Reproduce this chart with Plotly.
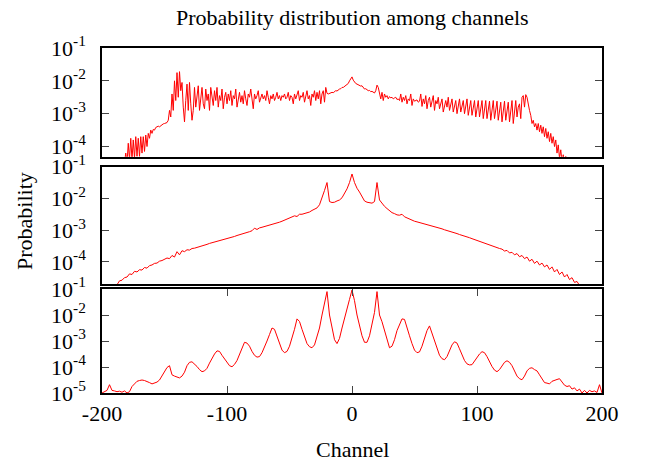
import plotly.graph_objects as go
from plotly.subplots import make_subplots

# ---- data (log10 of probability) ----
p1_start = -182  # channel of first value, step 1
p1_log10 = [
    -4.5,-4.2,-4.5,-3.9,-4.4,-3.75,-4.4,-3.8,-4.35,-3.7,-4.3,-3.75,-4.3,-3.7,-4.2,-3.7,-4.15,-3.65,-4.0,-3.6,
    -3.75,-3.5,-3.6,-3.48,-3.5,-3.42,-3.4,-3.38,-3.4,-3.36,-3.33,-3.31,-3.3,-3.28,-3.27,-3.2,
    -2.9,-3.1,-2.4,-2.9,-2.0,-2.6,-1.75,-2.5,-1.72,-2.3,-2.05,-2.8,-3.25,-2.6,-2.1,-2.9,-2.05,-2.7,-3.2,-2.9,
    -2.2,-2.8,-2.4,-2.15,-2.9,-2.5,-2.2,-2.7,-2.85,-2.25,
    -2.6,-2.4,-2.9,-2.2,-2.55,-2.75,-2.3,-2.6,-2.2,-2.8,
    -2.45,-2.6,-2.25,-2.85,-2.5,-2.35,-2.7,-2.4,-2.6,-2.3,
    -2.75,-2.45,-2.55,-2.25,-2.8,-2.5,-2.35,-2.65,-2.45,-2.7,
    -2.3,-2.55,-2.75,-2.4,-2.5,-2.25,-2.6,-2.85,-2.4,-2.55,
    -2.45,-2.3,-2.65,-2.5,-2.4,-2.55,-2.45,-2.6,-2.3,-2.5,
    -2.7,-2.45,-2.55,-2.4,-2.6,-2.5,-2.35,-2.55,-2.45,-2.6,
    -2.45,-2.5,-2.4,-2.55,-2.5,-2.35,-2.6,-2.45,-2.5,-2.7,
    -2.4,-2.55,-2.45,-2.3,-2.6,-2.45,-2.5,
    -2.35,-2.65,-2.45,-2.3,-2.55,-2.45,-2.75,-2.4,-2.5,-2.3,-2.6,-2.35,-2.55,-2.3,-2.7,-2.4,-2.3,-2.65,-2.2,
    -2.38,-2.4,-2.38,-2.36,-2.35,-2.36,-2.33,-2.3,-2.31,-2.27,-2.25,-2.24,-2.2,-2.2,-2.17,-2.15,-2.1,-2.08,-2.0,-1.95,-1.88,
    -1.98,-2.05,-2.08,-2.1,-2.12,-2.14,-2.16,-2.15,-2.2,-2.25,-2.24,-2.28,-2.3,-2.29,-2.33,-2.32,-2.36,-2.37,-2.3,-2.13,
    -2.2,-2.45,-2.55,-2.35,-2.6,-2.4,-2.5,-2.45,-2.55,-2.48,-2.52,-2.5,-2.55,-2.52,-2.5,-2.57,-2.55,-2.6,-2.4,-2.65,
    -2.5,-2.6,-2.45,-2.7,-2.55,-2.6,-2.4,-2.75,-2.55,-2.62,-2.6,-2.58,-2.65,-2.62,-2.4,-2.78,-2.55,-2.7,-2.45,-2.85,
    -2.6,-2.5,-2.8,-2.65,-2.45,-2.9,-2.6,-2.7,-2.5,-2.85,-2.65,-2.55,-2.95,-2.7,-2.6,-2.8,-2.5,-2.9,-2.7,-2.55,
    -2.95,-2.7,-2.6,-3.0,-2.75,-2.55,-2.95,-2.7,-2.6,-3.0,-2.75,-2.55,-3.05,-2.8,-2.6,-3.05,-2.75,-2.6,-3.1,-2.8,
    -2.6,-3.1,-2.8,-2.6,-3.15,-2.8,-2.6,-3.15,-2.85,-2.62,-3.2,-2.85,-2.6,-3.15,-2.9,-2.62,-3.2,-2.85,-2.65,-3.25,
    -2.9,-2.62,-3.2,-2.85,-2.65,-3.25,-2.9,-2.6,-3.3,-2.9,-2.6,-3.1,-2.8,-2.7,-3.15,
    -2.5,-2.45,-2.8,-2.42,-2.5,-2.75,-2.9,-3.05,-3.3,-3.2,-3.4,-3.3,-3.5,-3.3,-3.55,-3.35,-3.6,-3.4,-3.7,-3.45,
    -3.75,-3.55,-3.85,-3.6,-3.9,-3.7,-4.0,-3.8,-4.2,-3.95,-4.35,-4.1,-4.45,-4.25,-4.5,-4.3,-4.5,
]

p23_start = -200  # channel of first value, step 2
p2_log10 = [
    -5,-5,-5,-5,-5,-4.85,-4.72,-4.6,-4.58,-4.5,
    -4.48,-4.38,-4.4,-4.3,-4.32,-4.25,-4.26,-4.18,-4.2,-4.12,
    -4.1,-4.05,-4.04,-3.98,-3.96,-3.93,-3.88,-3.9,-3.8,-3.85,
    -3.68,-3.78,-3.65,-3.68,-3.62,-3.63,-3.58,-3.57,-3.55,-3.52,
    -3.5,-3.47,-3.45,-3.42,-3.4,-3.38,-3.35,-3.33,-3.31,-3.28,
    -3.26,-3.24,-3.22,-3.2,-3.17,-3.15,-3.12,-3.1,-3.07,-3.05,
    -3.02,-2.94,-2.98,-2.93,-2.91,-2.89,-2.86,-2.84,-2.82,-2.8,
    -2.77,-2.75,-2.72,-2.69,-2.66,-2.63,-2.58,-2.55,-2.57,-2.5,
    -2.5,-2.48,-2.45,-2.43,-2.38,-2.35,-2.3,-2.2,-2.0,-1.75,
    -1.5,-2.1,-2.13,-2.12,-2.08,-2.05,-1.98,-1.85,-1.7,-1.5,
    -1.23,
    -1.5,-1.68,-1.8,-1.95,-2.08,-2.12,-2.13,-2.15,-2.1,-1.5,
    -2.05,-2.17,-2.25,-2.32,-2.38,-2.45,-2.48,-2.52,-2.53,-2.5,
    -2.58,-2.62,-2.66,-2.7,-2.72,-2.74,-2.76,-2.78,-2.8,-2.83,
    -2.85,-2.87,-2.9,-2.92,-2.94,-2.96,-2.99,-3.01,-3.04,-3.06,
    -3.09,-3.11,-3.14,-3.16,-3.19,-3.22,-3.24,-3.27,-3.3,-3.33,
    -3.36,-3.38,-3.41,-3.44,-3.47,-3.5,-3.52,-3.55,-3.58,-3.6,
    -3.66,-3.64,-3.72,-3.7,-3.78,-3.74,-3.84,-3.8,-3.9,-3.85,
    -3.98,-3.92,-4.05,-3.98,-4.1,-4.04,-4.16,-4.1,-4.24,-4.16,
    -4.32,-4.24,-4.4,-4.32,-4.48,-4.4,-4.56,-4.5,-4.65,-4.62,
    -4.75,-4.85,-5,-5,-5,-5,-5,-5,-5,-5,
]

p3_log10 = [
    -5.0,-4.95,-4.9,-4.68,-4.9,-4.92,-4.95,-4.93,-4.97,-4.92,
    -5.0,-4.95,-4.75,-4.65,-4.55,-4.52,-4.5,-4.52,-4.55,-4.6,
    -4.65,-4.62,-4.58,-4.5,-4.35,-4.2,-4.02,-3.95,-4.3,-4.35,
    -4.4,-4.42,-4.35,-4.2,-3.95,-3.82,-3.8,-3.88,-3.98,-4.1,
    -4.18,-4.15,-4.05,-3.85,-3.65,-3.5,-3.38,-3.4,-3.55,-3.7,
    -3.85,-3.95,-3.99,-3.9,-3.75,-3.5,-3.25,-3.05,-3.08,-3.2,
    -3.4,-3.55,-3.62,-3.6,-3.45,-3.25,-3.0,-2.75,-2.5,-2.55,
    -2.8,-3.1,-3.35,-3.45,-3.4,-3.2,-2.9,-2.55,-2.15,-2.25,
    -2.55,-2.85,-3.1,-3.22,-3.26,-3.15,-2.85,-2.5,-2.0,-1.6,
    -1.1,-2.0,-2.5,-2.95,-3.1,-2.9,-2.5,-2.1,-1.8,-1.4,
    -1.04,
    -1.45,-2.0,-2.44,-2.8,-3.05,-3.05,-2.8,-2.3,-1.9,-1.1,
    -2.0,-2.26,-2.6,-3.0,-3.26,-3.2,-2.95,-2.6,-2.35,-2.15,
    -2.17,-2.45,-2.8,-3.1,-3.35,-3.45,-3.42,-3.2,-2.9,-2.6,
    -2.42,-2.7,-3.0,-3.3,-3.55,-3.68,-3.72,-3.6,-3.4,-3.15,
    -3.03,-3.08,-3.3,-3.55,-3.75,-3.88,-3.92,-3.91,-3.78,-3.62,
    -3.5,-3.41,-3.45,-3.6,-3.8,-3.98,-4.12,-4.18,-4.1,-3.95,
    -3.82,-3.76,-3.82,-3.95,-4.15,-4.35,-4.45,-4.49,-4.35,-4.15,
    -4.05,-4.03,-4.1,-4.15,-4.3,-4.45,-4.6,-4.62,-4.65,-4.55,
    -4.5,-4.48,-4.45,-4.6,-4.7,-4.75,-4.72,-4.85,-4.8,-4.92,
    -4.85,-5.0,-4.9,-5.0,-4.9,-4.95,-4.92,-4.98,-4.68,-5.0,
]

x_ticks = [-200, -100, 0, 100, 200]
x_ticktext = ["-200", "-100", "0", "100", "200"]
y_exps_top = [-1, -2, -3, -4]
y_exps_bottom = [-1, -2, -3, -4, -5]

title_text = "Probability distribution among channels"
x_title = "Channel"
y_title = "Probability"

# ---- build ----
x1 = [p1_start + i for i in range(len(p1_log10))]
x2 = [p23_start + 2 * i for i in range(len(p2_log10))]
x3 = [p23_start + 2 * i for i in range(len(p3_log10))]
y1 = [10 ** v for v in p1_log10]
y2 = [10 ** v for v in p2_log10]
y3 = [10 ** v for v in p3_log10]

FONT = "Liberation Serif"
W, H = 648, 463
L, R, T, B = 102, 46, 48, 70
ph = H - T - B

def dom(top_px, bot_px):
    return [(H - B - bot_px) / ph, (H - B - top_px) / ph]

fig = make_subplots(rows=3, cols=1)
line = dict(color="#ff0000", width=1)
fig.add_trace(go.Scatter(x=x1, y=y1, mode="lines", line=line, showlegend=False), row=1, col=1)
fig.add_trace(go.Scatter(x=x2, y=y2, mode="lines", line=line, showlegend=False), row=2, col=1)
fig.add_trace(go.Scatter(x=x3, y=y3, mode="lines", line=line, showlegend=False), row=3, col=1)

domains = [dom(48, 156.7), dom(166.7, 284), dom(289, 393)]
yranges = [[-4.31, -1], [-4.7, -1], [-5, -1]]
yexps = [y_exps_top, y_exps_top, y_exps_bottom]

for i in range(3):
    n = "" if i == 0 else str(i + 1)
    last = i == 2
    fig.layout["xaxis" + n].update(
        range=[-200, 200], showline=True, mirror="allticks" if last else True,
        linecolor="black", linewidth=1.5, showgrid=False, zeroline=False,
        ticks="inside" if last else "", ticklen=7, tickcolor="#444",
        tickvals=x_ticks, ticktext=x_ticktext, showticklabels=last,
        tickfont=dict(family=FONT, size=22, color="black"),
    )
    fig.layout["yaxis" + n].update(
        type="log", range=yranges[i], domain=domains[i],
        showline=True, mirror="allticks", linecolor="black", linewidth=1.5,
        showgrid=False, zeroline=False, ticks="inside", ticklen=7, tickcolor="#444",
        tickvals=[10 ** e for e in yexps[i]],
        ticktext=["10<sup>%d</sup>" % e for e in yexps[i]],
        tickfont=dict(family=FONT, size=22, color="black"),
        ticklabelstandoff=10,
    )

def py(px):
    return (H - B - px) / ph

fig.update_layout(
    width=W, height=H, margin=dict(l=L, r=R, t=T, b=B),
    paper_bgcolor="white", plot_bgcolor="white",
    font=dict(family=FONT, size=22, color="black"),
    annotations=[
        dict(text=title_text, x=0.5, y=py(17), xref="paper", yref="paper",
             xanchor="center", yanchor="middle", showarrow=False,
             font=dict(family=FONT, size=22, color="black")),
        dict(text=x_title, x=0.5, y=py(449), xref="paper", yref="paper",
             xanchor="center", yanchor="middle", showarrow=False,
             font=dict(family=FONT, size=22, color="black")),
        dict(text=y_title, x=(25 - L) / (W - L - R), y=py(221), xref="paper", yref="paper",
             xanchor="center", yanchor="middle", textangle=-90, showarrow=False,
             font=dict(family=FONT, size=22, color="black")),
    ],
)

fig.write_html("out.html")
